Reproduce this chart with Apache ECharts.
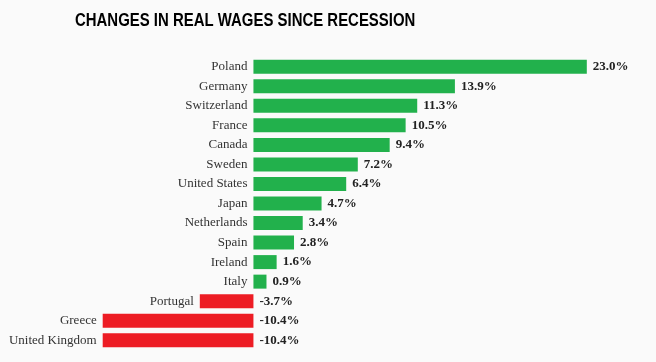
<!DOCTYPE html>
<html>
<head>
<meta charset="utf-8">
<script src="https://cdn.jsdelivr.net/npm/echarts@6/dist/echarts.min.js"></script>
<style>
html,body{margin:0;padding:0;background:#fafafa;}
#chart{width:656px;height:362px;}
</style>
</head>
<body>
<div id="chart"></div>
<script>
const categories = ['Poland','Germany','Switzerland','France','Canada','Sweden','United States','Japan','Netherlands','Spain','Ireland','Italy','Portugal','Greece','United Kingdom'];
const values = [23.0, 13.9, 11.3, 10.5, 9.4, 7.2, 6.4, 4.7, 3.4, 2.8, 1.6, 0.9, -3.7, -10.4, -10.4];
const titleText = 'CHANGES IN REAL WAGES SINCE RECESSION';

const GREEN = '#22b14c';
const RED = '#ed1c24';
const chart = echarts.init(document.getElementById('chart'));
chart.setOption({
  backgroundColor: '#fafafa',
  animation: false,
  graphic: [{
    type: 'text',
    x: 75,
    y: 20.8,
    scaleX: 0.83,
    style: {
      text: titleText,
      font: "bold 18px 'Liberation Sans', Arial, sans-serif",
      fill: '#000',
      verticalAlign: 'middle',
      align: 'left'
    }
  }],
  grid: { left: 94, right: 54.7, top: 57, height: 293 },
  xAxis: { type: 'value', min: -11, max: 24, show: false },
  yAxis: { type: 'category', data: categories, inverse: true, show: false },
  series: [
    {
      type: 'bar',
      data: values,
      barWidth: 14,
      itemStyle: { color: p => p.value >= 0 ? GREEN : RED },
      label: {
        show: true,
        position: 'right',
        distance: 6,
        formatter: p => p.value.toFixed(1) + '%',
        fontFamily: "'Liberation Serif', serif",
        fontWeight: 'bold',
        fontSize: 13,
        color: '#222'
      }
    },
    {
      type: 'bar',
      data: values,
      barWidth: 14,
      barGap: '-100%',
      itemStyle: { color: 'rgba(0,0,0,0)' },
      label: {
        show: true,
        position: 'left',
        distance: 6,
        formatter: p => p.name,
        fontFamily: "'Liberation Serif', serif",
        fontSize: 13,
        color: '#333'
      }
    }
  ]
});
</script>
</body>
</html>
